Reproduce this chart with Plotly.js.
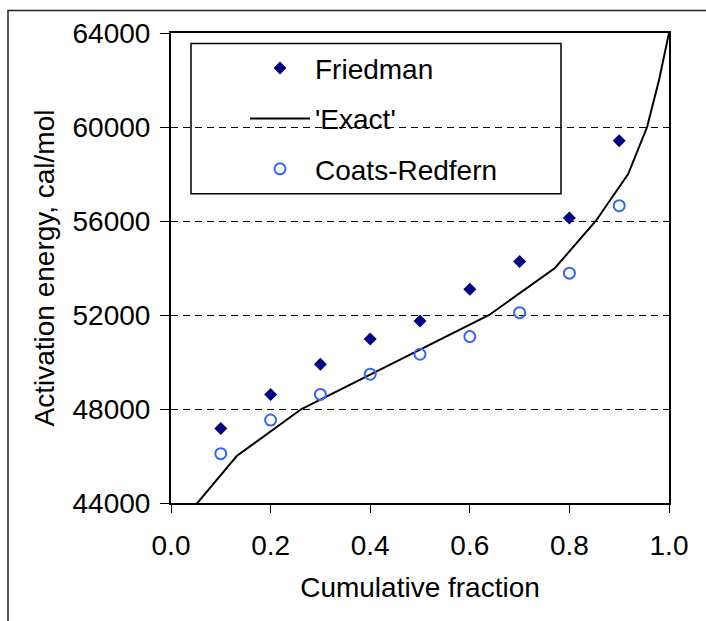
<!DOCTYPE html>
<html>
<head>
<meta charset="utf-8">
<script src="https://cdn.plot.ly/plotly-3.0.1.min.js"></script>
<style>html,body{margin:0;padding:0;background:#fff;}#chart{width:706px;height:621px;}</style>
</head>
<body>
<div id="chart"></div>
<script>
// Data
const fraction = [0.1, 0.2, 0.3, 0.4, 0.5, 0.6, 0.7, 0.8, 0.9];
const friedman = [47170, 48620, 49900, 50980, 51740, 53100, 54280, 56130, 59410];
const coatsRedfern = [46100, 47530, 48620, 49480, 50330, 51080, 52100, 53780, 56650];
const exactX = [0.045, 0.132, 0.262, 0.45, 0.639, 0.771, 0.853, 0.918, 0.956, 0.980, 1.0];
const exactY = [43800, 46000, 48000, 50000, 52000, 54000, 56000, 58000, 60000, 62000, 64000];
const xTicks = [0, 0.2, 0.4, 0.6, 0.8, 1.0];
const yTicks = [44000, 48000, 52000, 56000, 60000, 64000];

const FONT = 'Liberation Sans, Arial, sans-serif';

const traces = [
  {x: fraction, y: friedman, name: 'Friedman', type: 'scatter', mode: 'markers',
   legendgroup: 'a',
   marker: {symbol: 'diamond', size: 10, color: '#000080', line: {width: 0}}, cliponaxis: false},
  {x: exactX, y: exactY, name: "'Exact'", type: 'scatter', mode: 'lines',
   legendgroup: 'b',
   line: {color: '#000000', width: 2}},
  {x: fraction, y: coatsRedfern, name: 'Coats-Redfern', type: 'scatter', mode: 'markers',
   legendgroup: 'c',
   marker: {symbol: 'circle-open', size: 11, color: '#3366FF', line: {width: 2, color: '#3366FF'}}, cliponaxis: false}
];

const layout = {
  width: 706, height: 621,
  margin: {l: 171, r: 37, t: 33, b: 118, pad: 0},
  paper_bgcolor: '#ffffff', plot_bgcolor: '#ffffff',
  font: {family: FONT, size: 28, color: '#000000'},
  showlegend: true,
  legend: {x: 0.1486, y: 0.978, xanchor: 'left', yanchor: 'top',
    bgcolor: 'rgba(0,0,0,0)', borderwidth: 0,
    font: {family: FONT, size: 28, color: '#000'},
    traceorder: 'grouped', tracegroupgap: 11, itemwidth: 60},
  xaxis: {range: [0, 1], tickvals: xTicks, tickformat: '.1f',
    showgrid: false, zeroline: false,
    showline: true, linecolor: '#000', linewidth: 2, mirror: true,
    ticks: 'outside', ticklen: 8, tickwidth: 1, tickcolor: '#000',
    ticklabelstandoff: 8,
    title: {text: 'Cumulative fraction', font: {family: FONT, size: 28}, standoff: 18}},
  yaxis: {range: [44000, 64000], tickvals: yTicks, tickformat: 'd',
    showgrid: true, gridcolor: '#000', gridwidth: 1, griddash: '7px,5px',
    zeroline: false,
    showline: true, linecolor: '#000', linewidth: 2, mirror: true,
    ticks: 'outside', ticklen: 9, tickwidth: 1, tickcolor: '#000',
    ticklabelstandoff: 4,
    title: {text: 'Activation energy, cal/mol', font: {family: FONT, size: 28}, standoff: 10}},
  shapes: [
    // legend box
    {type: 'rect', xref: 'paper', yref: 'paper', x0: 0.0402, x1: 0.7831, y0: 0.6579, y1: 0.9776,
     line: {color: '#000', width: 1.5}, fillcolor: 'rgba(0,0,0,0)', layer: 'above'},
    // outer frame
    {type: 'rect', xref: 'paper', yref: 'paper', x0: -0.3273, x1: 1.09, y0: -0.27, y1: 1.048,
     line: {color: '#222', width: 1.5}, fillcolor: 'rgba(0,0,0,0)', layer: 'below'}
  ]
};

Plotly.newPlot('chart', traces, layout, {displayModeBar: false, staticPlot: true});
</script>
</body>
</html>
